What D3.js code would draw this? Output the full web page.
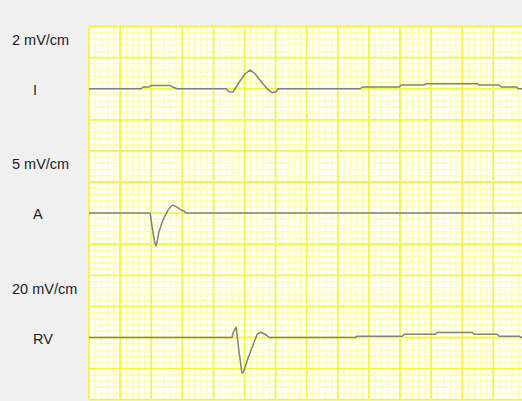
<!DOCTYPE html>
<html>
<head>
<meta charset="utf-8">
<script src="https://cdn.jsdelivr.net/npm/d3@7/dist/d3.min.js"></script>
<style>
  html, body { margin: 0; padding: 0; background: #f0f0f0; }
  svg { display: block; }
  .label { font-family: "Liberation Sans", Arial, sans-serif; font-size: 14.5px; fill: #1c1c28; }
</style>
</head>
<body>
<div id="chart"></div>
<script>
  // lead names and gain labels
  const leadNames = ["I", "A", "RV"];
  const gainLabels = ["2 mV/cm", "5 mV/cm", "20 mV/cm"];
  const gains = [2, 5, 20]; // mV per cm

  // samples: [time ms, mV]
  const leadI = [
    [0, 0], [335, 0], [348, 0.055], [386, 0.055], [399, 0.1], [521, 0.1],
    [540, 0.055], [566, 0], [882, 0], [901, -0.1], [927, -0.11], [959, 0.16],
    [1004, 0.48], [1036, 0.6], [1068, 0.48], [1113, 0.19], [1152, -0.03],
    [1178, -0.13], [1203, -0.1], [1216, 0], [1744, 0], [1757, 0.055],
    [1995, 0.055], [2008, 0.12], [2156, 0.12], [2169, 0.16], [2497, 0.16],
    [2510, 0.12], [2638, 0.12], [2651, 0.055], [2748, 0.055], [2761, 0], [2800, 0]
  ];
  const leadA = [
    [0, 0], [393, 0], [401, -0.7], [412, -1.6], [422, -2.3], [431, -2.65],
    [440, -2.2], [450, -1.5], [466, -0.9], [476, -0.55], [508, 0.24],
    [528, 0.56], [541, 0.64], [566, 0.48], [592, 0.25], [611, 0.16],
    [624, 0], [2800, 0]
  ];
  const leadRV = [
    [0, 0], [920, 0], [927, 1.6], [946, 3.3], [954, 0], [965, -4.5],
    [983, -11.4], [993, -11.2], [1023, -6.6], [1055, -2.4], [1082, 1.1],
    [1105, 1.7], [1140, 0.8], [1158, 0], [1712, 0], [1725, 0.42],
    [2014, 0.42], [2027, 1.06], [2227, 1.06], [2239, 1.6], [2465, 1.6],
    [2477, 1.06], [2625, 1.06], [2638, 0.42], [2767, 0.42], [2780, 0], [2800, 0]
  ];
  const leads = [leadI, leadA, leadRV];

  const w = 522;
  const h = 401;
  const gridLeft = 89;
  const gridTop = 26.5;
  const major = 31.1;      // px per 5 mm box
  const rows = 12;         // major rows
  const gridBottom = gridTop + rows * major;

  const svg = d3.select("#chart").append("svg")
    .attr("width", w)
    .attr("height", h);

  svg.append("rect").attr("width", w).attr("height", h).attr("fill", "#f0f0f0");

  // 25 mm/s -> 200 ms per major box
  const x = d3.scaleLinear().domain([0, 200]).range([gridLeft, gridLeft + major]);
  const tMax = x.invert(w);
  const gridY = d3.scaleLinear().domain([0, rows * 5]).range([gridTop, gridBottom]);

  svg.append("rect")
    .attr("x", gridLeft).attr("y", gridTop)
    .attr("width", w - gridLeft).attr("height", gridBottom - gridTop)
    .attr("fill", "#ffffff");

  const grid = svg.append("g");
  const minorT = d3.range(0, tMax, 40);
  const minorR = d3.range(0, rows * 5 + 1);

  // minor grid
  grid.selectAll(".vmin").data(minorT.filter((t, i) => i % 5 != 0)).enter()
    .append("line")
    .attr("x1", (d) => x(d)).attr("x2", (d) => x(d))
    .attr("y1", gridTop).attr("y2", gridBottom)
    .attr("stroke", "#ffffa8").attr("stroke-width", 1.5);
  grid.selectAll(".hmin").data(minorR.filter((r) => r % 5 != 0)).enter()
    .append("line")
    .attr("x1", gridLeft).attr("x2", w)
    .attr("y1", (d) => gridY(d)).attr("y2", (d) => gridY(d))
    .attr("stroke", "#ffffa8").attr("stroke-width", 1.5);

  // major grid
  grid.selectAll(".vmaj").data(minorT.filter((t, i) => i % 5 == 0)).enter()
    .append("line")
    .attr("x1", (d) => x(d)).attr("x2", (d) => x(d))
    .attr("y1", gridTop).attr("y2", gridBottom)
    .attr("stroke", "#f6f640").attr("stroke-width", 1.8);
  grid.selectAll(".hmaj").data(minorR.filter((r) => r % 5 == 0)).enter()
    .append("line")
    .attr("x1", gridLeft).attr("x2", w)
    .attr("y1", (d) => gridY(d)).attr("y2", (d) => gridY(d))
    .attr("stroke", "#f6f640").attr("stroke-width", 1.8);

  // traces: baselines on major rows 2, 6, 10
  const baseRows = [2, 6, 10];
  leads.forEach((data, k) => {
    const base = gridY(baseRows[k] * 5);
    const y = d3.scaleLinear().domain([0, gains[k]]).range([base, base - 2 * major]);
    const line = d3.line().x((d) => x(d[0])).y((d) => y(d[1]));
    svg.append("path")
      .datum(data)
      .attr("d", line)
      .attr("fill", "none")
      .attr("stroke", "#808080")
      .attr("stroke-width", 1.5)
      .attr("stroke-linejoin", "round");

    svg.append("text")
      .attr("class", "label")
      .attr("x", 12)
      .attr("y", base - 44)
      .text(gainLabels[k]);

    svg.append("text")
      .attr("class", "label")
      .attr("x", 33)
      .attr("y", base + 6)
      .text(leadNames[k]);
  });
</script>
</body>
</html>
